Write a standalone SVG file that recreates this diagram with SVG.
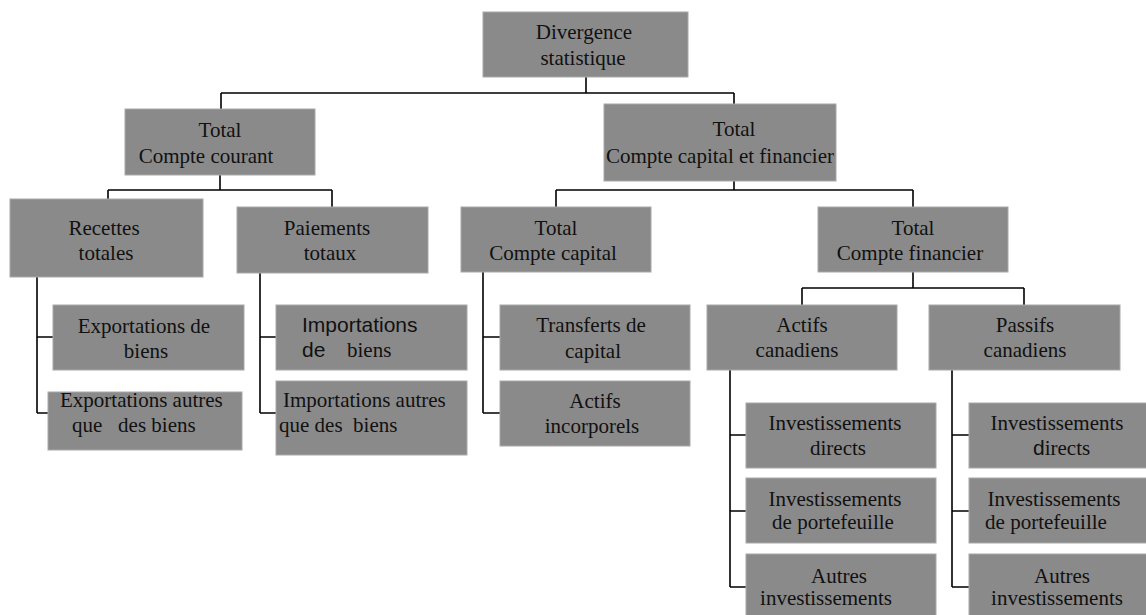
<svg xmlns="http://www.w3.org/2000/svg" width="1146" height="615" viewBox="0 0 1146 615">
  <style>
    .box { fill: #8a8a8a; stroke: #a8a8a8; stroke-width: 1; }
    .lbl { font-family: "Liberation Serif", "Times New Roman", serif; font-size: 21px; fill: #111; white-space: pre; }
    .mid { text-anchor: middle; }
    .sans { font-family: "Liberation Sans", Arial, sans-serif; }
    .link { fill: none; stroke: #000; stroke-width: 1.6; }
  </style>

  <!-- tree connectors -->
  <g id="connectors">
    <path class="link" d="M586,77 V93 M221,93 H734 M221,93 V109 M734,93 V104"/>
    <path class="link" d="M220,175 V190 M108,190 H332 M108,190 V199 M332,190 V207"/>
    <path class="link" d="M734,181 V190 M556,190 H913 M556,190 V207 M913,190 V207"/>
    <path class="link" d="M913,272 V288 M802,288 H1024 M802,288 V305 M1024,288 V305"/>
    <path class="link" d="M37,277 V413 M37,337 H53 M37,413 H48"/>
    <path class="link" d="M260,273 V413 M260,337 H276 M260,413 H276"/>
    <path class="link" d="M483,272 V413 M483,337 H500 M483,413 H500"/>
    <path class="link" d="M730,370 V587 M730,435 H746 M730,511 H746 M730,587 H746"/>
    <path class="link" d="M952,370 V587 M952,435 H969 M952,511 H969 M952,587 H969"/>
  </g>

  <g id="divergence">
    <rect class="box" x="483" y="12" width="205" height="65"/>
    <text class="lbl mid" x="584" y="39">Divergence</text>
    <text class="lbl mid" x="583" y="65">statistique</text>
  </g>

  <g id="compte-courant">
    <rect class="box" x="125" y="109" width="190" height="66"/>
    <text class="lbl mid" x="220" y="137">Total</text>
    <text class="lbl mid" x="206" y="163">Compte courant</text>
  </g>

  <g id="compte-capital-financier">
    <rect class="box" x="604" y="104" width="232" height="77"/>
    <text class="lbl mid" x="734" y="136">Total</text>
    <text class="lbl mid" x="720" y="163">Compte capital et financier</text>
  </g>

  <g id="recettes">
    <rect class="box" x="10" y="199" width="193" height="78"/>
    <text class="lbl mid" x="104" y="235">Recettes</text>
    <text class="lbl mid" x="106" y="260">totales</text>
  </g>

  <g id="paiements">
    <rect class="box" x="237" y="207" width="191" height="66"/>
    <text class="lbl mid" x="327" y="235">Paiements</text>
    <text class="lbl mid" x="330" y="260">totaux</text>
  </g>

  <g id="compte-capital">
    <rect class="box" x="461" y="207" width="190" height="65"/>
    <text class="lbl mid" x="556" y="235">Total</text>
    <text class="lbl mid" x="553" y="260">Compte capital</text>
  </g>

  <g id="compte-financier">
    <rect class="box" x="818" y="207" width="190" height="65"/>
    <text class="lbl mid" x="913" y="235">Total</text>
    <text class="lbl mid" x="910" y="260">Compte financier</text>
  </g>

  <g id="export-biens">
    <rect class="box" x="53" y="305" width="191" height="65"/>
    <text class="lbl mid" x="144" y="333">Exportations de</text>
    <text class="lbl mid" x="146" y="358">biens</text>
  </g>

  <g id="export-autres">
    <rect class="box" x="48" y="392" width="194" height="58"/>
    <text class="lbl" x="60" y="407">Exportations autres</text>
    <text class="lbl" x="72" y="432">que   des biens</text>
  </g>

  <g id="import-biens">
    <rect class="box" x="276" y="305" width="191" height="65"/>
    <text class="lbl sans" x="302" y="332">Importations</text>
    <text class="lbl" y="357"><tspan class="sans" x="302">de</tspan><tspan x="347">biens</tspan></text>
  </g>

  <g id="import-autres">
    <rect class="box" x="276" y="381" width="191" height="74"/>
    <text class="lbl" x="283" y="407">Importations autres</text>
    <text class="lbl" x="279" y="432">que des  biens</text>
  </g>

  <g id="transferts">
    <rect class="box" x="500" y="305" width="190" height="65"/>
    <text class="lbl mid" x="591" y="332">Transferts de</text>
    <text class="lbl mid" x="593" y="358">capital</text>
  </g>

  <g id="actifs-incorporels">
    <rect class="box" x="500" y="381" width="190" height="65"/>
    <text class="lbl mid" x="595" y="408">Actifs</text>
    <text class="lbl mid" x="592" y="433">incorporels</text>
  </g>

  <g id="actifs-canadiens">
    <rect class="box" x="707" y="305" width="190" height="65"/>
    <text class="lbl mid" x="802" y="332">Actifs</text>
    <text class="lbl mid" x="797" y="357">canadiens</text>
  </g>

  <g id="passifs-canadiens">
    <rect class="box" x="929" y="305" width="191" height="65"/>
    <text class="lbl mid" x="1025" y="332">Passifs</text>
    <text class="lbl mid" x="1025" y="357">canadiens</text>
  </g>

  <g id="actifs-directs">
    <rect class="box" x="746" y="403" width="190" height="65"/>
    <text class="lbl mid" x="835" y="430">Investissements</text>
    <text class="lbl mid" x="838" y="455">directs</text>
  </g>

  <g id="actifs-portefeuille">
    <rect class="box" x="746" y="478" width="190" height="65"/>
    <text class="lbl mid" x="835" y="506">Investissements</text>
    <text class="lbl mid" x="833" y="529">de portefeuille</text>
  </g>

  <g id="actifs-autres">
    <rect class="box" x="746" y="554" width="190" height="66"/>
    <text class="lbl mid" x="839" y="583">Autres</text>
    <text class="lbl mid" x="826" y="605">investissements</text>
  </g>

  <g id="passifs-directs">
    <rect class="box" x="969" y="403" width="190" height="65"/>
    <text class="lbl mid" x="1057" y="430">Investissements</text>
    <text class="lbl" x="1033" y="455"><tspan class="sans">d</tspan>irects</text>
  </g>

  <g id="passifs-portefeuille">
    <rect class="box" x="969" y="478" width="190" height="65"/>
    <text class="lbl mid" x="1054" y="506">Investissements</text>
    <text class="lbl mid" x="1046" y="529">de portefeuille</text>
  </g>

  <g id="passifs-autres">
    <rect class="box" x="969" y="554" width="190" height="66"/>
    <text class="lbl mid" x="1062" y="583">Autres</text>
    <text class="lbl mid" x="1057" y="605">investissements</text>
  </g>
</svg>
